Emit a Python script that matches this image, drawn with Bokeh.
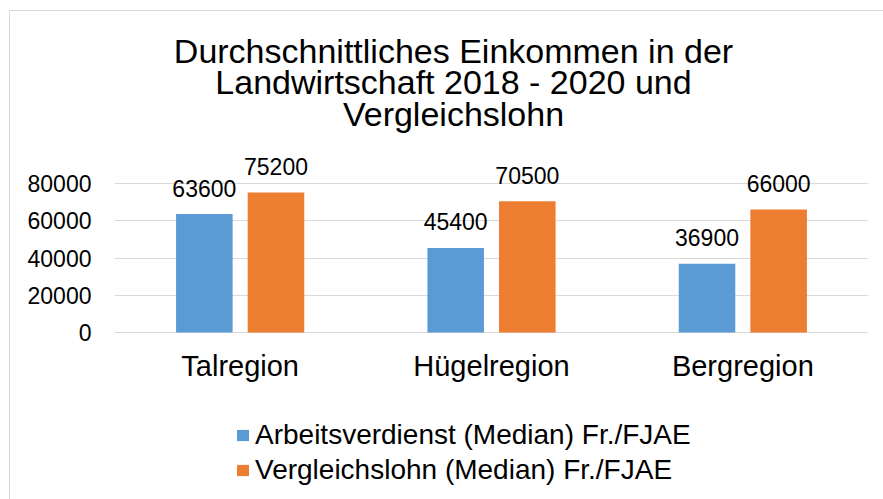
from bokeh.plotting import figure
from bokeh.models import (FactorRange, Range1d, FixedTicker, Legend, LegendItem,
                          Label, ColumnDataSource, InlineStyleSheet)
from bokeh.transform import dodge
from bokeh.core.properties import value
from bokeh.embed import file_html
from bokeh.resources import INLINE

# ---- data ----
categories = ["Talregion", "Hügelregion", "Bergregion"]
arbeitsverdienst = [63600, 45400, 36900]
vergleichslohn = [75200, 70500, 66000]
series_names = ["Arbeitsverdienst (Median) Fr./FJAE", "Vergleichslohn (Median) Fr./FJAE"]
y_ticks = [0, 20000, 40000, 60000, 80000]
title_lines = ["Durchschnittliches Einkommen in der",
               "Landwirtschaft 2018 - 2020 und",
               "Vergleichslohn"]

# ---- style ----
FONT = "Liberation Sans"
BLUE = "#5B9BD5"
ORANGE = "#ED7D31"
GRID = "#D9D9D9"
TXT = "#000000"

source = ColumnDataSource(dict(
    cat=categories,
    a=arbeitsverdienst,
    v=vergleichslohn,
    a_lbl=[str(x) for x in arbeitsverdienst],
    v_lbl=[str(x) for x in vergleichslohn],
))

H, ZERO_PX, PX_PER_80K = 499, 332, 149
p = figure(width=883, height=H,
           x_range=FactorRange(factors=categories, range_padding=0),
           y_range=Range1d(-80000 * (H - ZERO_PX) / PX_PER_80K, 80000 * ZERO_PX / PX_PER_80K),
           output_backend="svg", toolbar_location=None,
           min_border_left=114, min_border_right=15,
           min_border_top=0, min_border_bottom=0)
p.outline_line_color = None
p.background_fill_color = "white"
p.border_fill_color = "white"

BW = 0.225
OFF = 0.1425
r_a = p.vbar(x=dodge("cat", -OFF, range=p.x_range), top="a", bottom=0, width=BW,
             source=source, fill_color=BLUE, line_color=None)
r_v = p.vbar(x=dodge("cat", OFF, range=p.x_range), top="v", bottom=0, width=BW,
             source=source, fill_color=ORANGE, line_color=None)

for col, ycol, off in (("a_lbl", "a", -OFF), ("v_lbl", "v", OFF)):
    p.text(x=dodge("cat", off, range=p.x_range), y=ycol, text=col, source=source,
           text_font=value(FONT), text_font_size="23px", text_color=TXT,
           text_align="center", text_baseline="alphabetic", y_offset=-26)

# axes
p.yaxis.ticker = FixedTicker(ticks=y_ticks)
p.yaxis.axis_line_color = None
p.yaxis.major_tick_line_color = None
p.yaxis.minor_tick_line_color = None
p.yaxis.major_label_standoff = 17
p.yaxis.major_label_text_font = FONT
p.yaxis.major_label_text_font_size = "23px"
p.yaxis.major_label_text_color = TXT

p.xaxis.fixed_location = 0
p.xaxis.axis_line_color = None
p.xaxis.major_tick_line_color = None
p.xaxis.major_label_standoff = 11
p.xaxis.major_label_text_font = FONT
p.xaxis.major_label_text_font_size = "29px"
p.xaxis.major_label_text_color = TXT

p.xgrid.grid_line_color = None
p.ygrid.grid_line_color = GRID
p.ygrid.grid_line_width = 1

# legend (frame-relative pixels, measured from the frame's bottom-left)
legend = Legend(items=[LegendItem(label=series_names[0], renderers=[r_a]),
                       LegendItem(label=series_names[1], renderers=[r_v])],
                orientation="vertical", location=(121, 13),
                margin=0, padding=0, spacing=3,
                glyph_width=15, glyph_height=14, label_standoff=5,
                label_height=31,
                label_text_font=FONT, label_text_font_size="28px",
                label_text_color=TXT,
                border_line_color=None, background_fill_alpha=0)
p.add_layout(legend)

# title
for i, line in enumerate(title_lines):
    p.add_layout(Label(x=453, y=50 + 31.6 * i, x_units="canvas", y_units="canvas",
                       text=line, text_align="center", text_baseline="alphabetic",
                       text_font=FONT, text_font_size="34px", text_color=TXT))

# light chart-area border (left and top edges)
p.stylesheets = [InlineStyleSheet(css="""
:host { position: relative; }
:host::after {
  content: ""; position: absolute; left: 9px; top: 10px; right: 0; bottom: 0;
  border-left: 1.5px solid #D9D9D9; border-top: 1.5px solid #D9D9D9;
  pointer-events: none;
}
""")]

open("out.html", "w").write(file_html(p, INLINE))
